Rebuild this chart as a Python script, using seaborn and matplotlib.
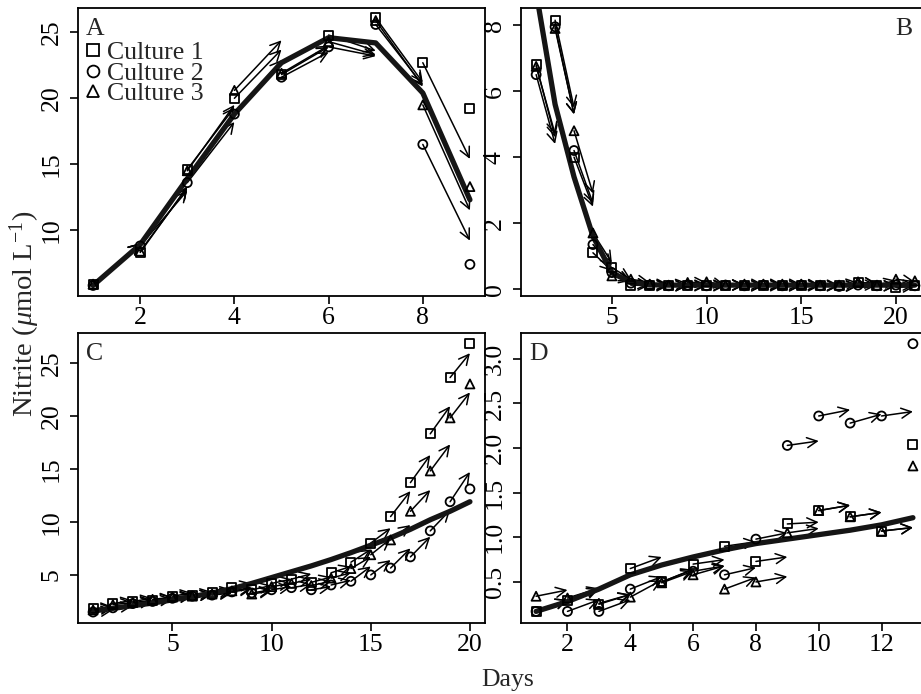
import matplotlib
matplotlib.use("Agg")
import matplotlib.pyplot as plt
import pandas as pd
import seaborn as sns
from matplotlib.lines import Line2D

# ---------------- data ----------------
cultures = ["Culture 1", "Culture 2", "Culture 3"]
marker_map = {"Culture 1": "s", "Culture 2": "o", "Culture 3": "^"}

# Panel A
a_days = [1, 2, 3, 4, 5, 6, 7, 8, 9]
a_obs_c1 = [5.9, 8.3, 14.6, 20.0, 21.8, 24.8, 26.1, 22.7, 19.2]
a_obs_c2 = [5.8, 8.8, 13.6, 18.8, 21.6, 23.9, 25.6, 16.5, 7.4]
a_obs_c3 = [5.9, 8.4, 14.5, 20.6, 21.9, 24.3, 25.9, 19.5, 13.3]
a_pred_c1 = [9.0, 13.3, 19.3, 23.7, 23.9, 23.6, 21.2, 15.4]
a_pred_c2 = [9.0, 13.0, 18.2, 22.9, 23.5, 23.2, 21.0, 9.2]
a_pred_c3 = [9.0, 13.2, 19.5, 24.4, 24.0, 23.3, 20.9, 11.5]
a_model = [5.8, 8.9, 13.9, 18.8, 22.7, 24.6, 24.2, 20.4, 12.3]

# Panel B
b_days = list(range(1, 22))
b_obs_c1 = [6.8, 8.15, 4.0, 1.1, 0.65, 0.12, 0.1, 0.1, 0.1, 0.12, 0.12, 0.1, 0.1, 0.1, 0.1, 0.1, 0.1, 0.2, 0.1, 0.05, 0.1]
b_obs_c2 = [6.5, 7.95, 4.2, 1.35, 0.5, 0.18, 0.12, 0.1, 0.12, 0.1, 0.12, 0.1, 0.12, 0.1, 0.12, 0.1, 0.08, 0.12, 0.1, 0.12, 0.1]
b_obs_c3 = [6.75, 7.9, 4.8, 1.7, 0.4, 0.3, 0.15, 0.12, 0.2, 0.22, 0.12, 0.15, 0.15, 0.15, 0.15, 0.12, 0.12, 0.22, 0.12, 0.3, 0.25]
b_pred_c1 = [4.6, 5.5, 2.5, 0.55, 0.3, 0.12, 0.1, 0.1, 0.1, 0.12, 0.12, 0.1, 0.1, 0.1, 0.1, 0.1, 0.1, 0.18, 0.1, 0.08]
b_pred_c2 = [4.4, 5.3, 2.6, 0.7, 0.25, 0.14, 0.12, 0.1, 0.12, 0.1, 0.12, 0.1, 0.12, 0.1, 0.12, 0.1, 0.1, 0.12, 0.1, 0.12]
b_pred_c3 = [4.7, 5.3, 2.9, 0.8, 0.25, 0.2, 0.14, 0.18, 0.2, 0.12, 0.14, 0.14, 0.14, 0.14, 0.12, 0.12, 0.2, 0.12, 0.26, 0.22]
b_model = [9.0, 5.6, 3.4, 1.6, 0.5, 0.2, 0.13, 0.12, 0.12, 0.12, 0.12, 0.12, 0.12, 0.12, 0.12, 0.12, 0.12, 0.12, 0.12, 0.12, 0.12]

# Panel C
c_days = list(range(1, 21))
c_obs_c1 = [1.8, 2.3, 2.5, 2.6, 3.0, 3.1, 3.3, 3.8, 3.6, 4.2, 4.6, 4.3, 5.2, 6.2, 8.0, 10.5, 13.7, 18.3, 23.6, 26.8]
c_obs_c2 = [1.5, 1.9, 2.3, 2.5, 2.8, 3.0, 3.1, 3.4, 3.3, 3.6, 3.8, 3.6, 4.05, 4.4, 5.0, 5.65, 6.7, 9.15, 11.9, 13.1]
c_obs_c3 = [1.7, 2.2, 2.4, 2.7, 2.9, 3.0, 3.2, 3.5, 3.2, 3.9, 4.2, 4.0, 4.7, 5.6, 6.9, 8.3, 11.0, 14.8, 19.8, 23.0]
c_pred_c1 = [2.0, 2.6, 2.8, 2.9, 3.3, 3.4, 3.6, 4.2, 4.0, 4.6, 5.1, 4.8, 5.8, 7.4, 9.4, 12.9, 16.3, 20.9, 25.9]
c_pred_c2 = [1.7, 2.1, 2.5, 2.7, 3.0, 3.2, 3.3, 3.7, 3.6, 3.9, 4.1, 3.9, 4.5, 5.8, 6.4, 7.5, 8.6, 11.1, 14.7]
c_pred_c3 = [1.9, 2.4, 2.6, 2.9, 3.1, 3.2, 3.4, 3.8, 3.5, 4.2, 4.6, 4.4, 5.2, 6.7, 8.4, 9.7, 13.0, 17.3, 22.2]
c_model = [1.6, 1.85, 2.1, 2.35, 2.65, 2.95, 3.3, 3.7, 4.2, 4.75, 5.3, 5.85, 6.45, 7.1, 7.8, 8.5, 9.3, 10.2, 11.0, 11.9]

# Panel D
d_days = list(range(1, 14))
d_obs_c1 = [0.17, 0.29, 0.25, 0.65, 0.5, 0.70, 0.90, 0.73, 1.15, 1.30, 1.23, 1.07, 2.04]
d_obs_c2 = [0.17, 0.17, 0.17, 0.42, 0.5, 0.62, 0.58, 0.98, 2.03, 2.36, 2.28, 2.36, 3.17]
d_obs_c3 = [0.34, 0.32, 0.26, 0.33, 0.49, 0.58, 0.42, 0.50, 1.05, 1.30, 1.23, 1.07, 1.80]
d_pred_c1 = [0.30, 0.42, 0.36, 0.78, 0.64, 0.75, 0.95, 0.78, 1.17, 1.36, 1.28, 1.11]
d_pred_c2 = [0.30, 0.30, 0.30, 0.56, 0.64, 0.68, 0.66, 1.05, 2.08, 2.43, 2.38, 2.41]
d_pred_c3 = [0.41, 0.43, 0.36, 0.52, 0.62, 0.68, 0.55, 0.56, 1.10, 1.36, 1.28, 1.11]
d_model = [0.17, 0.28, 0.42, 0.58, 0.69, 0.78, 0.86, 0.93, 0.98, 1.03, 1.08, 1.14, 1.22]

# ---------------- style ----------------
sns.set_style("ticks")
plt.rcParams["font.family"] = ["Liberation Serif", "DejaVu Serif"]
plt.rcParams["mathtext.fontset"] = "custom"
plt.rcParams["mathtext.rm"] = "Liberation Serif"
plt.rcParams["mathtext.it"] = "Liberation Serif:italic"

FS = 18.5
W, H = 921, 694
fig = plt.figure(figsize=(W / 100, H / 100), dpi=100)


def px_axes(left, top, width, height):
    return fig.add_axes([left / W, 1 - (top + height) / H, width / W, height / H])


def draw_panel(ax, days, obs, pred, model, xlim, ylim, xticks, yticks, ytlabels,
               letter, letter_right=False):
    rows = []
    for c in cultures:
        for d, v in zip(days, obs[c]):
            rows.append({"day": d, "value": v, "culture": c})
    df = pd.DataFrame(rows)

    # arrows: from observation at day t to one-step prediction at day t+1
    for c in cultures:
        for i in range(len(days) - 1):
            ax.annotate("", xy=(days[i + 1], pred[c][i]), xytext=(days[i], obs[c][i]),
                        arrowprops=dict(arrowstyle="->", color="black", lw=1.1,
                                        shrinkA=0, shrinkB=0, mutation_scale=18),
                        zorder=2)

    sns.lineplot(x=days, y=model, color="#151515", lw=3.8, ax=ax, zorder=3,
                 legend=False)
    sns.scatterplot(data=df, x="day", y="value", style="culture", markers=marker_map,
                    color="black", s=42, linewidth=1.3, ax=ax, legend=False, zorder=4)
    coll = ax.collections[-1]
    coll.set_facecolor("none")
    coll.set_edgecolor("black")

    ax.set_xlim(*xlim)
    ax.set_ylim(*ylim)
    ax.set_xticks(xticks)
    ax.set_yticks(yticks)
    ax.set_yticklabels(ytlabels)
    ax.set_xlabel("")
    ax.set_ylabel("")
    for s in ax.spines.values():
        s.set_visible(True)
        s.set_linewidth(1.3)
        s.set_color("black")
    ax.tick_params(axis="both", direction="out", length=6, width=1.2, colors="black",
                   labelsize=FS)
    ax.tick_params(axis="x", pad=2)
    ax.tick_params(axis="y", pad=5)
    for lab in ax.get_yticklabels():
        lab.set_rotation(90)
        lab.set_va("center")
        lab.set_ha("right")
    if letter_right:
        ax.text(0.958, 0.965, letter, transform=ax.transAxes, ha="right", va="top",
                fontsize=FS)
    else:
        ax.text(0.02, 0.965, letter, transform=ax.transAxes, ha="left", va="top",
                fontsize=FS)


axA = px_axes(78, 8, 407, 288)
axB = px_axes(521, 8, 409, 288)
axC = px_axes(78, 333, 407, 290)
axD = px_axes(521, 333, 407, 290)

draw_panel(axA, a_days,
           {"Culture 1": a_obs_c1, "Culture 2": a_obs_c2, "Culture 3": a_obs_c3},
           {"Culture 1": a_pred_c1, "Culture 2": a_pred_c2, "Culture 3": a_pred_c3},
           a_model, (0.68, 9.32), (5.0, 26.85), [2, 4, 6, 8], [10, 15, 20, 25],
           ["10", "15", "20", "25"], "A")
draw_panel(axB, b_days,
           {"Culture 1": b_obs_c1, "Culture 2": b_obs_c2, "Culture 3": b_obs_c3},
           {"Culture 1": b_pred_c1, "Culture 2": b_pred_c2, "Culture 3": b_pred_c3},
           b_model, (0.2, 21.8), (-0.21, 8.52), [5, 10, 15, 20], [0, 2, 4, 6, 8],
           ["0", "2", "4", "6", "8"], "B", letter_right=True)
draw_panel(axC, c_days,
           {"Culture 1": c_obs_c1, "Culture 2": c_obs_c2, "Culture 3": c_obs_c3},
           {"Culture 1": c_pred_c1, "Culture 2": c_pred_c2, "Culture 3": c_pred_c3},
           c_model, (0.24, 20.76), (0.47, 27.8), [5, 10, 15, 20], [5, 10, 15, 20, 25],
           ["5", "10", "15", "20", "25"], "C")
draw_panel(axD, d_days,
           {"Culture 1": d_obs_c1, "Culture 2": d_obs_c2, "Culture 3": d_obs_c3},
           {"Culture 1": d_pred_c1, "Culture 2": d_pred_c2, "Culture 3": d_pred_c3},
           d_model, (0.52, 13.48), (0.04, 3.29), [2, 4, 6, 8, 10, 12],
           [0.5, 1.0, 1.5, 2.0, 2.5, 3.0], ["0.5", "1.0", "1.5", "2.0", "2.5", "3.0"], "D")

handles = [Line2D([], [], ls="none", marker=marker_map[c], mfc="none", mec="black",
                  mew=1.3, ms=8.5) for c in cultures]
axA.legend(handles, cultures, loc="upper left", bbox_to_anchor=(0.018, 0.885),
           frameon=False, fontsize=FS, handlelength=0.6, handletextpad=0.25,
           labelspacing=-0.1, borderpad=0, borderaxespad=0)

fig.text(25 / W, 1 - 314 / H, r"Nitrite ($\mu$mol L$^{-1}$)", rotation=90,
         ha="center", va="center", fontsize=20.5)
fig.text(508 / W, 1 - 680 / H, "Days", ha="center", va="center", fontsize=FS)

fig.savefig("out.png", dpi=100)
